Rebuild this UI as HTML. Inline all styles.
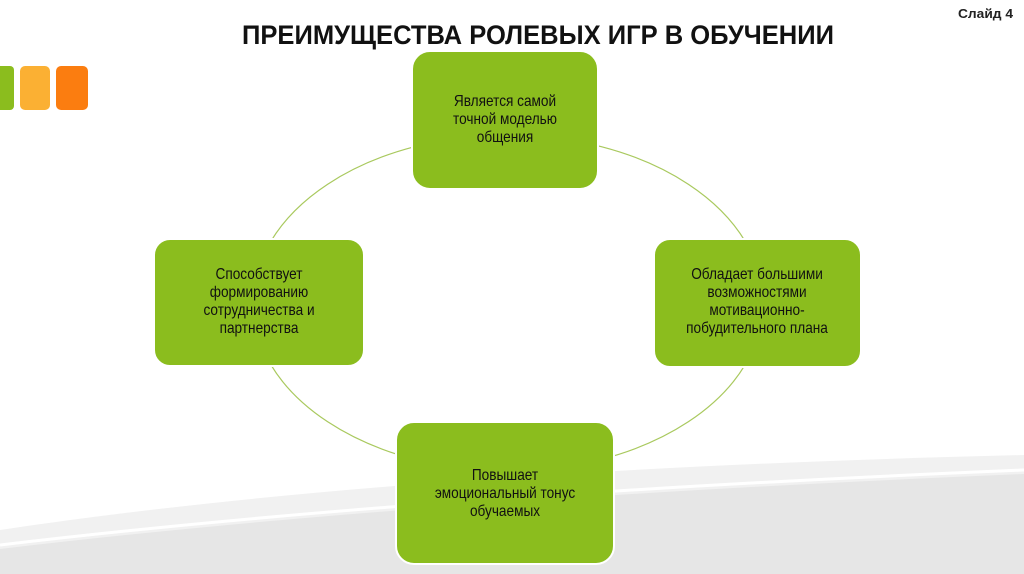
<!DOCTYPE html>
<html><head><meta charset="utf-8"><style>
html,body{margin:0;padding:0;background:#fff;}
svg{display:block;}
text{font-family:"Liberation Sans","DejaVu Sans",sans-serif;}
</style></head><body>
<svg width="1024" height="574" viewBox="0 0 1024 574" xmlns="http://www.w3.org/2000/svg">
<rect width="1024" height="574" fill="#fff"/>
<path d="M0 530 Q400 470 1024 455 L1024 574 L0 574 Z" fill="#f1f1f1"/>
<path d="M0 545 Q420 495 1024 470" stroke="#fff" stroke-width="3" fill="none"/>
<path d="M0 549 Q420 499 1024 474 L1024 574 L0 574 Z" fill="#e6e6e6"/>
<rect x="-8" y="66" width="22" height="44" rx="4" fill="#8bbd1e"/>
<rect x="20" y="66" width="30" height="44" rx="5" fill="#fbb033"/>
<rect x="56" y="66" width="32" height="44" rx="5" fill="#fb7d10"/>
<text x="242" y="44" font-size="27" font-weight="bold" fill="#111" textLength="592" lengthAdjust="spacingAndGlyphs">ПРЕИМУЩЕСТВА РОЛЕВЫХ ИГР В ОБУЧЕНИИ</text>
<text x="1013" y="18" font-size="13" font-weight="bold" fill="#222" text-anchor="end" textLength="55" lengthAdjust="spacingAndGlyphs">Слайд 4</text>
<ellipse cx="508" cy="303" rx="255" ry="168" fill="none" stroke="#a9c95e" stroke-width="1.2"/>
<g fill="#8bbd1e" stroke="#fff" stroke-width="2">
<rect x="412" y="51" width="186" height="138" rx="18"/>
<rect x="154" y="239" width="210" height="127" rx="16"/>
<rect x="654" y="239" width="207" height="128" rx="16"/>
<rect x="396" y="422" width="218" height="142" rx="18"/>
</g>
<g font-size="15.5" fill="#111" text-anchor="middle">
<g transform="translate(505 0) scale(0.88 1)">
<text x="0" y="106">Является самой</text>
<text x="0" y="124">точной моделью</text>
<text x="0" y="142">общения</text>
</g>
<g transform="translate(259 0) scale(0.88 1)">
<text x="0" y="279">Способствует</text>
<text x="0" y="297">формированию</text>
<text x="0" y="315">сотрудничества и</text>
<text x="0" y="333">партнерства</text>
</g>
<g transform="translate(757 0) scale(0.88 1)">
<text x="0" y="279">Обладает большими</text>
<text x="0" y="297">возможностями</text>
<text x="0" y="315">мотивационно-</text>
<text x="0" y="333">побудительного плана</text>
</g>
<g transform="translate(505 0) scale(0.88 1)">
<text x="0" y="480">Повышает</text>
<text x="0" y="498">эмоциональный тонус</text>
<text x="0" y="516">обучаемых</text>
</g>
</g>
</svg>
</body></html>
